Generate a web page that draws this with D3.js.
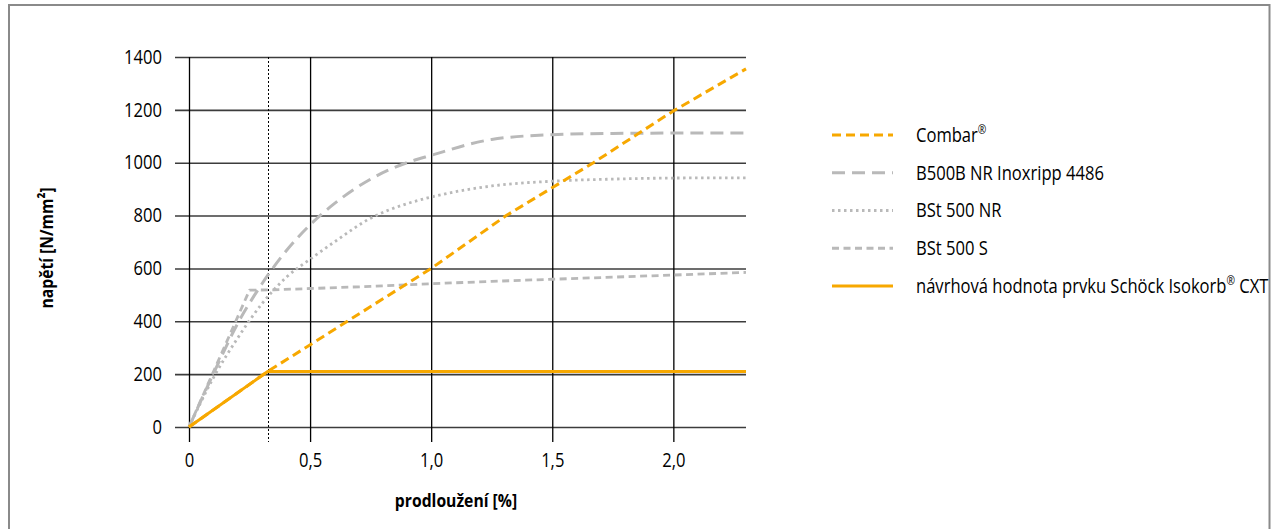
<!DOCTYPE html>
<html>
<head>
<meta charset="utf-8">
<script src="https://cdn.jsdelivr.net/npm/d3@7"></script>
<style>
  html, body { margin: 0; padding: 0; background: #fff; }
  svg { display: block; }
  text { font-family: "Open Sans", "Noto Sans", sans-serif; fill: #000; }
</style>
</head>
<body>
<svg id="chart" width="1277" height="529"></svg>
<script>
// ---------- data ----------
const xTickValues = [0, 0.5, 1.0, 1.5, 2.0];
const xTickLabels = ["0", "0,5", "1,0", "1,5", "2,0"];
const yTickValues = [0, 200, 400, 600, 800, 1000, 1200, 1400];
const yTickLabels = ["0", "200", "400", "600", "800", "1000", "1200", "1400"];

const seriesNames = [
  "Combar®",
  "B500B NR Inoxripp 4486",
  "BSt 500 NR",
  "BSt 500 S",
  "návrhová hodnota prvku Schöck Isokorb® CXT"
];

// strain [%] / stress [N/mm²]
const combarX = [0, 0.325, 1.0, 1.31, 1.67, 2.0, 2.3];
const combarY = [0, 210, 600, 800, 1000, 1196, 1355];

const inoxX = [0, 0.1, 0.2, 0.3, 0.4, 0.5, 0.6, 0.75, 0.9, 1.0, 1.25, 1.5, 1.75, 2.0, 2.3];
const inoxY = [0, 200, 390, 540, 665, 765, 845, 938, 1000, 1028, 1088, 1106, 1111, 1112, 1112];

const bstNRX = [0, 0.1, 0.2, 0.3, 0.4, 0.5, 0.6, 0.75, 0.9, 1.0, 1.25, 1.5, 1.75, 2.0, 2.3];
const bstNRY = [0, 185, 335, 465, 565, 635, 700, 790, 845, 870, 912, 930, 938, 942, 943];

const bstSX = [0, 0.25, 0.35, 0.5, 0.75, 1.0, 1.25, 1.5, 1.75, 2.0, 2.3];
const bstSY = [0, 518, 519, 524, 532, 542, 551, 559, 567, 575, 585];

const designX = [0, 0.325, 2.3];
const designY = [0, 210, 210];

const markerX = 0.326; // dotted vertical reference line

// ---------- setup ----------
const svg = d3.select("#chart");
const ORANGE = "#f7a800";
const GREY = "#b9b9b9";
const FS = 19.5, SX = 0.85;

const x = d3.scaleLinear().domain([0, 2.3]).range([189, 746]);
const y = d3.scaleLinear().domain([0, 1400]).range([427, 57]);

function condense(sel) {
  sel.each(function () {
    const t = d3.select(this);
    const tx = +t.attr("x") || 0, ty = +t.attr("y") || 0;
    t.attr("x", 0).attr("y", 0)
     .attr("transform", `translate(${tx},${ty}) scale(${SX},1)`);
  });
}

// frame
svg.append("rect").attr("x", 9).attr("y", 5).attr("width", 1260.5).attr("height", 540)
  .attr("fill", "none").attr("stroke", "#8a8a8a").attr("stroke-width", 2);

// y axis with horizontal grid lines
const yAxis = d3.axisLeft(y).tickValues(yTickValues)
  .tickFormat((d, i) => yTickLabels[i])
  .tickSize(746 - 175).tickPadding(13);
const gy = svg.append("g").attr("transform", "translate(746,0)").call(yAxis);
gy.select(".domain").remove();
gy.selectAll(".tick line").attr("stroke", "#3c3c3c").attr("stroke-width", 1.6);
gy.selectAll(".tick text").attr("font-size", FS).attr("fill", "#000")
  .attr("font-family", "'Open Sans', sans-serif").call(condense);

// x axis with vertical grid lines
const xAxis = d3.axisBottom(x).tickValues(xTickValues)
  .tickFormat((d, i) => xTickLabels[i])
  .tickSize(442 - 57).tickPadding(11);
const gx = svg.append("g").attr("transform", "translate(0,57)").call(xAxis);
gx.select(".domain").remove();
gx.selectAll(".tick line").attr("stroke", "#000").attr("stroke-width", 1.3);
gx.selectAll(".tick text").attr("font-size", FS).attr("fill", "#000")
  .attr("font-family", "'Open Sans', sans-serif").call(condense);

// dotted reference line
svg.append("line")
  .attr("x1", Math.round(x(markerX)) + 0.5).attr("x2", Math.round(x(markerX)) + 0.5)
  .attr("y1", 57).attr("y2", 442)
  .attr("stroke", "#000").attr("stroke-width", 1).attr("stroke-dasharray", "2,2");

// axis titles
svg.append("text").text("prodloužení [%]")
  .attr("x", 456).attr("y", 507)
  .attr("text-anchor", "middle").attr("font-size", 18.5).attr("font-weight", "bold")
  .call(condense);
svg.append("text").text("napětí [N/mm²]")
  .attr("text-anchor", "middle").attr("font-size", 18.5).attr("font-weight", "bold")
  .attr("transform", `translate(53,248) rotate(-90) scale(${SX},1)`);

// ---------- series ----------
const styles = [
  { xs: combarX, ys: combarY, color: ORANGE, width: 3, dash: "9,5", curve: d3.curveLinear },
  { xs: inoxX, ys: inoxY, color: GREY, width: 3, dash: "13,7", curve: d3.curveMonotoneX },
  { xs: bstNRX, ys: bstNRY, color: GREY, width: 2.8, dash: "2.5,3.5", curve: d3.curveMonotoneX },
  { xs: bstSX, ys: bstSY, color: GREY, width: 2.8, dash: "7,4.5", curve: d3.curveLinear },
  { xs: designX, ys: designY, color: ORANGE, width: 3, dash: null, curve: d3.curveLinear }
];

const drawOrder = [3, 2, 1, 4, 0];
drawOrder.forEach(i => {
  const s = styles[i];
  const pts = s.xs.map((v, k) => [v, s.ys[k]]);
  const line = d3.line().x(d => x(d[0])).y(d => y(d[1])).curve(s.curve);
  svg.append("path").datum(pts)
    .attr("d", line)
    .attr("fill", "none")
    .attr("stroke", s.color)
    .attr("stroke-width", s.width)
    .attr("stroke-dasharray", s.dash)
    .attr("stroke-linejoin", "round");
});

// ---------- legend ----------
const legendRows = d3.scaleLinear().domain([0, 4]).range([135, 286]);
const SHIFT = FS * 0.38;
const lg = svg.append("g");
seriesNames.forEach((name, i) => {
  const s = styles[i];
  const yy = legendRows(i);
  lg.append("line")
    .attr("x1", 832).attr("x2", 893).attr("y1", yy).attr("y2", yy)
    .attr("stroke", s.color).attr("stroke-width", s.width)
    .attr("stroke-dasharray", s.dash);
  const t = lg.append("text")
    .attr("x", 916).attr("y", yy + 0.35 * FS)
    .attr("font-size", FS);
  const parts = name.split("®");
  parts.forEach((p, k) => {
    if (p.length) {
      t.append("tspan").text(p).attr("dy", k > 0 ? SHIFT : 0);
    }
    if (k < parts.length - 1) {
      t.append("tspan").text("®").attr("font-size", FS * 0.62).attr("dy", -SHIFT);
    }
  });
  t.call(condense);
});
</script>
</body>
</html>
